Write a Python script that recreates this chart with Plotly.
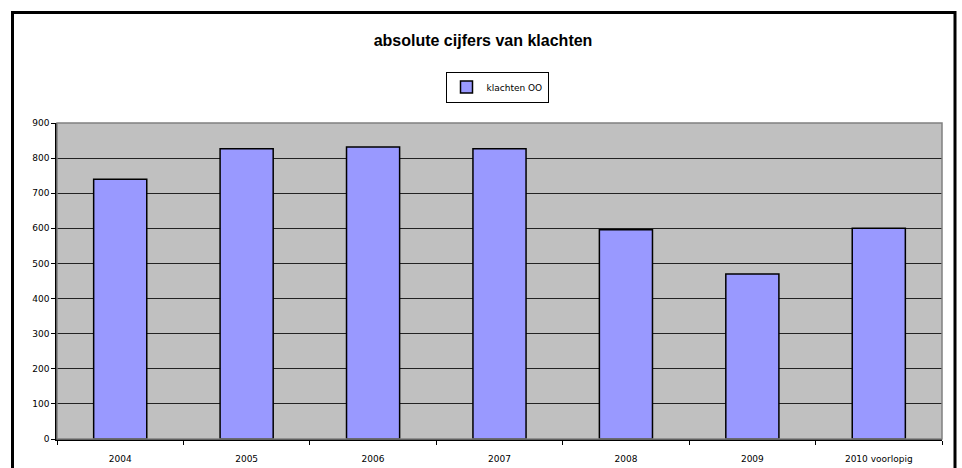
import plotly.graph_objects as go

categories = ["2004", "2005", "2006", "2007", "2008", "2009", "2010 voorlopig"]
klachten_oo = [740, 827, 832, 827, 596, 470, 600]
series_name = "klachten OO"
title_text = "absolute cijfers van klachten"
y_ticks = [0, 100, 200, 300, 400, 500, 600, 700, 800, 900]

L, R, T, B = 57, 20, 123, 29
W, H = 962, 468
pw, ph = W - L - R, H - T - B

def px_to_paper_x(px):
    return (px - L) / pw

def px_to_paper_y(py):
    return (H - B - py) / ph

fig = go.Figure()
fig.add_trace(go.Bar(
    x=categories, y=klachten_oo, name=series_name,
    marker=dict(color="#9999FF", line=dict(color="#000000", width=1.5)),
    width=0.42,
))

fig.update_layout(
    width=W, height=H,
    margin=dict(l=L, r=R, t=T, b=B, autoexpand=False),
    paper_bgcolor="white",
    plot_bgcolor="#C0C0C0",
    title=dict(text="<b>" + title_text + "</b>", x=px_to_paper_x(483), xref="paper",
               y=1 - 40 / H, yref="container", xanchor="center", yanchor="middle",
               font=dict(family="Liberation Sans, Arial", size=16, color="black")),
    showlegend=True,
    legend=dict(x=px_to_paper_x(497), y=px_to_paper_y(87), xanchor="center", yanchor="middle",
                bordercolor="black", borderwidth=1, bgcolor="white",
                font=dict(family="DejaVu Sans, Verdana", size=9, color="black"),
                itemwidth=30, tracegroupgap=0),
    font=dict(family="DejaVu Sans, Verdana", size=9, color="black"),
    shapes=[
        dict(type="rect", xref="paper", yref="paper", x0=0, x1=1, y0=0, y1=1,
             line=dict(color="#808080", width=1.5), layer="above"),
        dict(type="rect", xref="paper", yref="paper",
             x0=px_to_paper_x(12.5), x1=px_to_paper_x(955), y0=px_to_paper_y(475), y1=px_to_paper_y(12.5),
             line=dict(color="black", width=3)),
    ],
)

fig.update_xaxes(
    type="category", showgrid=False, showline=True, linecolor="black", linewidth=1.5,
    ticks="outside", tickson="boundaries", ticklen=4, tickcolor="black", tickwidth=1,
    ticklabelstandoff=10, automargin=False,
    tickfont=dict(family="DejaVu Sans, Verdana", size=9, color="black"),
)
fig.update_yaxes(
    range=[0, 900], tickvals=y_ticks, showgrid=True, gridcolor="#222222", gridwidth=1.2,
    showline=True, linecolor="black", linewidth=1.5, ticks="outside", ticklen=4,
    tickcolor="black", zeroline=False, automargin=False,
    tickfont=dict(family="DejaVu Sans, Verdana", size=9, color="black"),
)

fig.write_html("out.html", config={"displayModeBar": False},
               post_script="document.body.style.margin='0px';")
